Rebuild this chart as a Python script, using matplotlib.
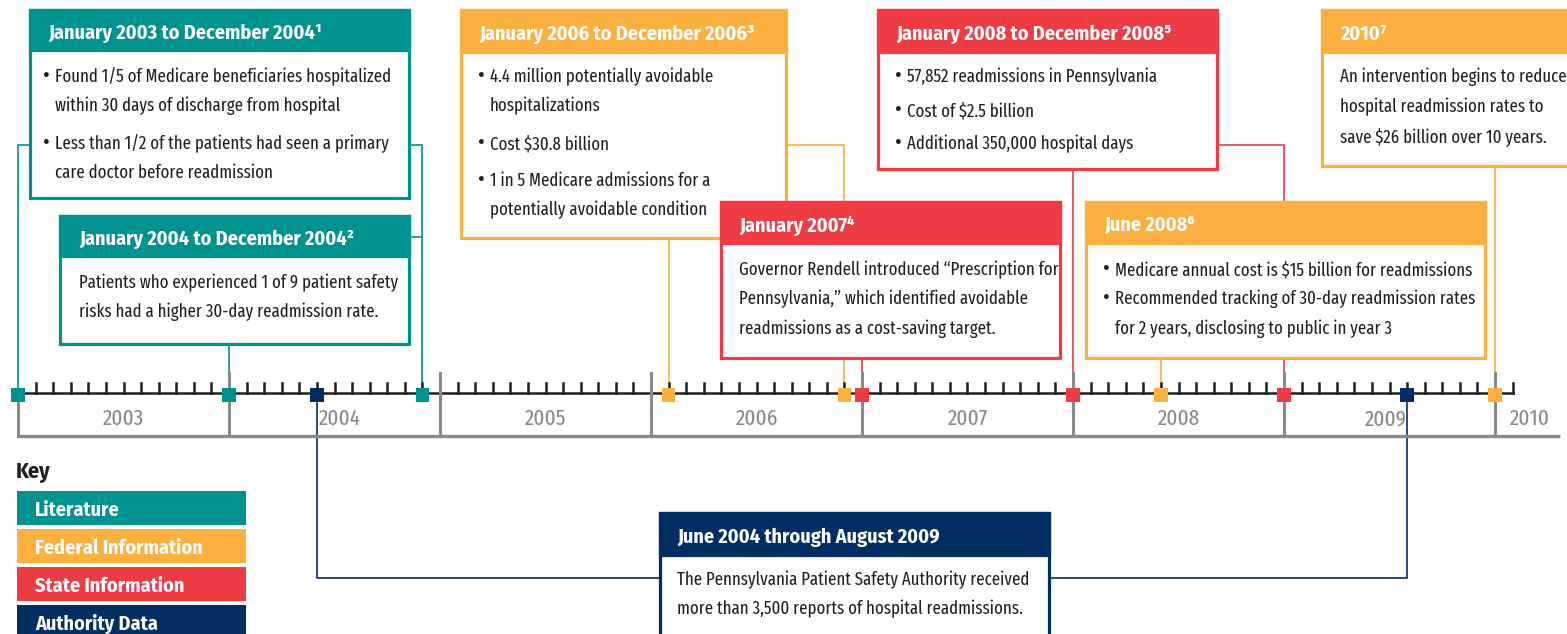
import matplotlib.pyplot as plt
from matplotlib.patches import Rectangle

teal = "#00928f"
orange = "#fbb040"
red = "#ee3b44"
navy = "#002d62"
grey = "#8a8a8d"
ink = "#231f20"

BODY_FONT = ["Fira Sans Extra Condensed", "DejaVu Sans"]
HEAD_FONT = ["Fira Sans Condensed", "DejaVu Sans"]
plt.rcParams["font.family"] = BODY_FONT

# timeline, months counted from January 2003
years = [2003, 2004, 2005, 2006, 2007, 2008, 2009, 2010]
year_label_pos = [6, 18.3, 30, 42, 54, 66, 77.8, 86]
n_months = 85

# events marked on the line
event_month = [0, 12, 17, 23, 37, 47, 48, 60, 65, 72, 79, 84]
event_color = [teal, teal, navy, teal, orange, orange, red, red, orange, red, navy, orange]

key_labels = ["Literature", "Federal Information", "State Information", "Authority Data"]
key_colors = [teal, orange, red, navy]

# pixel layout -> month units on x
PX0 = 18
PXM = 211 / 12


def mx(px):
    return (px - PX0) / PXM


fig = plt.figure(figsize=(15.67, 6.34), dpi=100)
ax = fig.add_axes([0, 0, 1, 1])
ax.set_xlim(mx(0), mx(1567))
ax.set_ylim(634, 0)
ax.axis("off")

BASE = 393
BODY = 13.1
HEAD = 14.5


def box(x0, y0, x1, y1, hb, color, title, tx, lines, ys, bx=None):
    if bx is None:
        bx = tx
    ax.add_patch(Rectangle((mx(x0), y0), mx(x1) - mx(x0), y1 - y0, facecolor="white",
                           edgecolor=color, lw=2.3, zorder=3))
    ax.add_patch(Rectangle((mx(x0), y0), mx(x1) - mx(x0), hb - y0, facecolor=color,
                           edgecolor=color, lw=2.3, zorder=3))
    ax.text(mx(tx), (y0 + hb) / 2 + 3, title, color="white", fontsize=HEAD, fontweight="bold",
            family=HEAD_FONT, va="center", ha="left", zorder=4)
    for y, s in zip(ys, lines):
        if s.startswith("• "):
            ax.text(mx(bx - 1), y + 1, "•", color=ink, fontsize=16, va="center", zorder=4)
            ax.text(mx(bx + 11), y + 2, s[2:], color=ink, fontsize=BODY, va="center", zorder=4)
        elif s.startswith("  "):
            ax.text(mx(bx + 11), y + 2, s[2:], color=ink, fontsize=BODY, va="center", zorder=4)
        else:
            ax.text(mx(tx), y + 2, s, color=ink, fontsize=BODY, va="center", zorder=4)


def link(xs, ys, color):
    ax.plot(xs, ys, color=color, lw=1.2, zorder=1, solid_capstyle="butt")


# connectors
m = event_month
link([m[0], m[0], mx(30)], [BASE, 145, 145], teal)
link([mx(409), m[3], m[3]], [145, 145, BASE], teal)
link([mx(409), m[3]], [237, 237], teal)
link([m[1], m[1]], [344, BASE], teal)
link([m[4], m[4]], [238, BASE], orange)
link([mx(786), m[5], m[5]], [145, 145, BASE], orange)
link([m[6], m[6]], [358, BASE], red)
link([m[7], m[7]], [169, BASE], red)
link([mx(1217), m[9], m[9]], [145, 145, BASE], red)
link([m[8], m[8]], [358, BASE], orange)
link([m[11], m[11]], [166, BASE], orange)
link([m[2], m[2], mx(660)], [BASE, 578, 578], navy)
link([mx(1049), m[10], m[10]], [578, 578, BASE], navy)

# boxes
box(30, 10, 409, 198, 50, teal, "January 2003 to December 2004¹", 48,
    ["• Found 1/5 of Medicare beneficiaries hospitalized",
     "  within 30 days of discharge from hospital",
     "• Less than 1/2 of the patients had seen a primary",
     "  care doctor before readmission"],
    [75, 104, 142, 171], bx=44)
box(60, 216, 409, 344, 256, teal, "January 2004 to December 2004²", 79,
    ["Patients who experienced 1 of 9 patient safety",
     "risks had a higher 30-day readmission rate."],
    [281, 310])
box(461, 10, 786, 238, 52, orange, "January 2006 to December 2006³", 479,
    ["• 4.4 million potentially avoidable",
     "  hospitalizations",
     "• Cost $30.8 billion",
     "• 1 in 5 Medicare admissions for a",
     "  potentially avoidable condition"],
    [75, 104, 142, 179, 208])
box(721, 202, 1060, 358, 243, red, "January 2007⁴", 739,
    ["Governor Rendell introduced “Prescription for",
     "Pennsylvania,” which identified avoidable",
     "readmissions as a cost-saving target."],
    [268, 297, 327])
box(878, 10, 1217, 169, 52, red, "January 2008 to December 2008⁵", 896,
    ["• 57,852 readmissions in Pennsylvania",
     "• Cost of $2.5 billion",
     "• Additional 350,000 hospital days"],
    [75, 109, 142])
box(1086, 202, 1485, 358, 243, orange, "June 2008⁶", 1104,
    ["• Medicare annual cost is $15 billion for readmissions",
     "• Recommended tracking of 30-day readmission rates",
     "  for 2 years, disclosing to public in year 3"],
    [268, 297, 327])
box(1322, 10, 1580, 166, 52, orange, "2010⁷", 1340,
    ["An intervention begins to reduce",
     "hospital readmission rates to",
     "save $26 billion over 10 years."],
    [75, 105, 135])
box(660, 513, 1049, 645, 555, navy, "June 2004 through August 2009", 677,
    ["The Pennsylvania Patient Safety Authority received",
     "more than 3,500 reports of hospital readmissions."],
    [578, 607])

# timeline
ax.plot([0, n_months], [BASE, BASE], color=ink, lw=1.8, zorder=2)
for k in range(1, n_months + 1):
    if k % 12:
        ax.plot([k, k], [BASE, BASE - 10], color=ink, lw=1.8, zorder=2)
for i, yr in enumerate(years):
    k = i * 12
    top = BASE if k == 0 else 373
    ax.plot([k, k], [top, 436], color=grey, lw=2.2, zorder=2)
    ax.text(year_label_pos[i], 419, str(yr), color=grey, fontsize=16.5, ha="center", va="center")
ax.plot([0, mx(1560)], [436, 436], color=grey, lw=2.4, zorder=2, solid_capstyle="butt")

ax.scatter(event_month, [395] * len(event_month), c=event_color, marker="s", s=90,
           linewidths=0, zorder=5)

# key
ax.text(mx(16), 472, "Key", color=ink, fontsize=16, fontweight="bold", family=HEAD_FONT, va="center")
key_top = [491, 529, 567, 605]
for t, lab, c in zip(key_top, key_labels, key_colors):
    ax.add_patch(Rectangle((mx(17), t), mx(246) - mx(17), 34, facecolor=c, edgecolor="none", zorder=3))
    ax.text(mx(35), t + 19, lab, color="white", fontsize=HEAD, fontweight="bold", family=HEAD_FONT,
            va="center", zorder=4)

fig.savefig("out.png", dpi=100)
